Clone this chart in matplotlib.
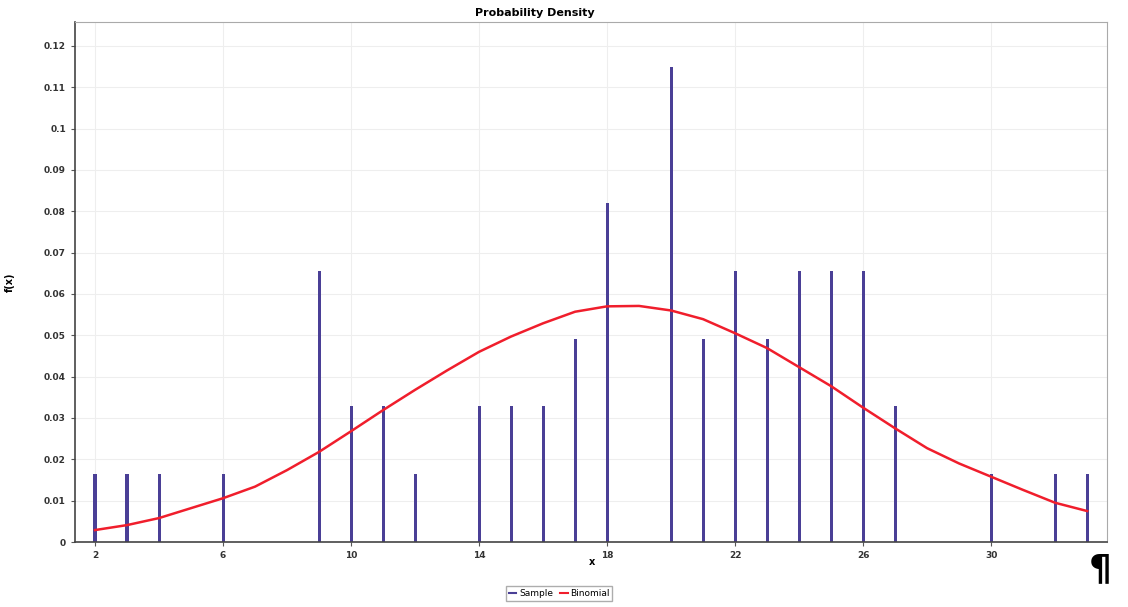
import numpy as np
import matplotlib
matplotlib.use('Agg')
import matplotlib.pyplot as plt
from matplotlib.ticker import FuncFormatter
from matplotlib.lines import Line2D

# sample densities
sample_x = [2, 3, 4, 6, 9, 10, 11, 12, 14, 15, 16, 17, 18, 20, 21, 22, 23, 24, 25, 26, 27, 30, 32, 33]
sample_y = [0.0164, 0.0164, 0.0164, 0.0164, 0.0656, 0.0328, 0.0328, 0.0164, 0.0328, 0.0328,
            0.0328, 0.0492, 0.0820, 0.1148, 0.0492, 0.0656, 0.0492, 0.0656, 0.0656, 0.0656,
            0.0328, 0.0164, 0.0164, 0.0164]

# binomial curve
binom_x = [2, 3, 4, 5, 6, 7, 8, 9, 10, 11, 12, 13, 14, 15, 16, 17, 18, 19, 20,
           21, 22, 23, 24, 25, 26, 27, 28, 29, 30, 31, 32, 33]
binom_y = [0.0029, 0.0041, 0.0058, 0.0082, 0.0106, 0.0134, 0.0174, 0.0218, 0.0268, 0.0319,
           0.0368, 0.0415, 0.0460, 0.0497, 0.0529, 0.0557, 0.0570, 0.0571, 0.0560, 0.0539,
           0.0505, 0.0469, 0.0423, 0.0377, 0.0325, 0.0275, 0.0227, 0.0190, 0.0158, 0.0126,
           0.0095, 0.0075]

xticks = [2, 6, 10, 14, 18, 22, 26, 30]
yticks = [0, 0.01, 0.02, 0.03, 0.04, 0.05, 0.06, 0.07, 0.08, 0.09, 0.1, 0.11, 0.12]

bar_color = '#4a3f96'
line_color = '#f01e2c'

fig = plt.figure(figsize=(11.28, 6.07), dpi=100)
ax = fig.add_axes([0.0665, 0.107, 0.915, 0.857])

ax.bar(sample_x, sample_y, width=0.095, color=bar_color, linewidth=0, zorder=2)
ax.plot(binom_x, binom_y, color=line_color, linewidth=1.8, zorder=3)

ax.set_xlim(1.375, 33.625)
ax.set_ylim(0, 0.1258)
ax.set_xticks(xticks)
ax.set_yticks(yticks)
ax.yaxis.set_major_formatter(FuncFormatter(lambda v, p: '%g' % round(v, 2)))
ax.tick_params(labelsize=6.5, length=3, color='#555555', labelcolor='#333333')
for lab in ax.get_xticklabels() + ax.get_yticklabels():
    lab.set_fontweight('bold')

ax.grid(True, color='#eeeeee', linewidth=0.8, zorder=0)
ax.set_axisbelow(True)
ax.spines['left'].set_color('#444444')
ax.spines['bottom'].set_color('#444444')
ax.spines['top'].set_color('#aaaaaa')
ax.spines['right'].set_color('#aaaaaa')
ax.spines['left'].set_linewidth(1.2)
ax.spines['bottom'].set_linewidth(1.2)

fig.text(0.474, 0.978, 'Probability Density', fontsize=8, fontweight='bold',
         ha='center', va='center')
ax.set_xlabel('x', fontsize=7, fontweight='bold')
ax.xaxis.set_label_coords(0.501, -0.028)
ax.set_ylabel('f(x)', fontsize=7, fontweight='bold')
ax.yaxis.set_label_coords(-0.058, 0.5)

handles = [Line2D([0], [0], color=bar_color, lw=1.5),
           Line2D([0], [0], color=line_color, lw=1.5)]
fig.legend(handles, ['Sample', 'Binomial'], loc='lower center',
           bbox_to_anchor=(0.496, 0.003), ncol=2, fontsize=6.5,
           handlelength=0.8, frameon=True, fancybox=False, edgecolor='#999999',
           handletextpad=0.3, columnspacing=0.8, borderpad=0.3)

fig.text(0.975, 0.035, '\u00b6', fontsize=26, fontweight='bold', ha='center', va='bottom')

fig.savefig('out.png', dpi=100)
